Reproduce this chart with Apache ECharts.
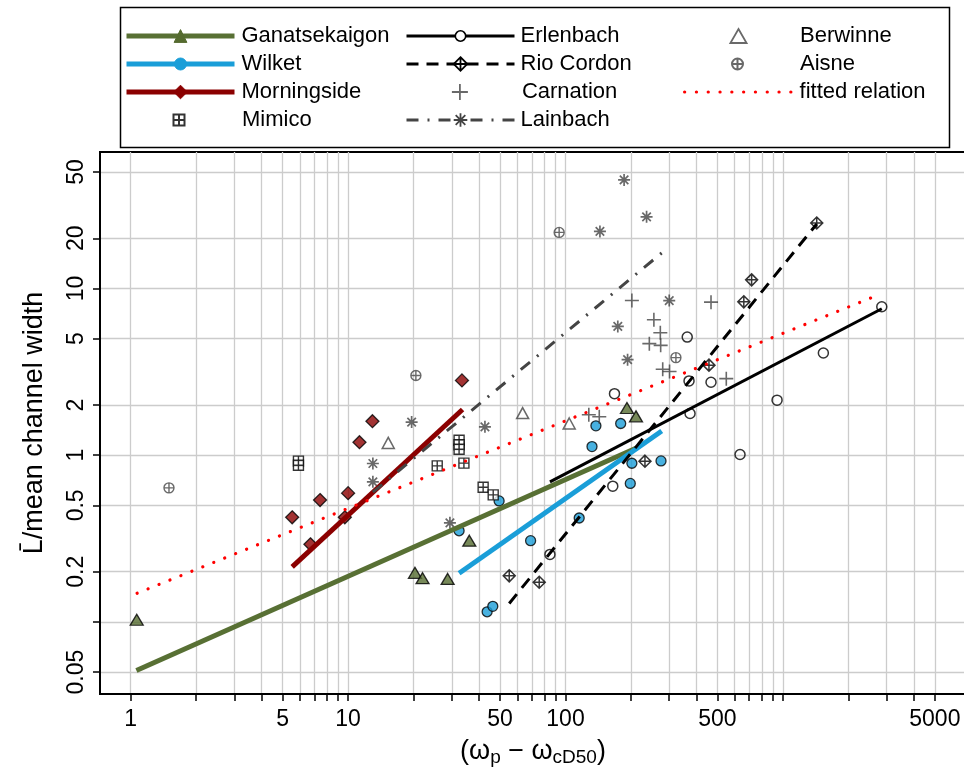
<!DOCTYPE html>
<html>
<head>
<meta charset="utf-8">
<script src="https://cdn.jsdelivr.net/npm/echarts@6/dist/echarts.min.js"></script>
<style>
  html, body { margin: 0; padding: 0; background: #fff; }
  #chart { width: 964px; height: 773px; }
</style>
</head>
<body>
<div id="chart"></div>
<script>
// tick + label values (raw, not log)
const xTicks = [1, 2, 3, 4, 5, 6, 7, 8, 9, 10, 20, 30, 40, 50, 60, 70, 80, 90,
  100, 200, 300, 400, 500, 600, 700, 800, 900, 1000, 2000, 3000, 4000, 5000];
const xLabels = [1, 5, 10, 50, 100, 500, 5000];
const yTicks = [0.05, 0.1, 0.2, 0.5, 1, 2, 5, 10, 20, 50];
const yLabels = [0.05, 0.2, 0.5, 1, 2, 5, 10, 20, 50];

// points: [x, y]
const ganatsekaigonPts = [[1.066, 0.103], [20.3, 0.197], [22.0, 0.183], [28.7, 0.181], [36.1, 0.307], [191.7, 1.92], [211, 1.71]];
const ganatsekaigonFit = [[1.062, 0.0511], [212, 1.106]];
const wilketPts = [[43.6, 0.115], [46.3, 0.124], [32.4, 0.352], [49.5, 0.532], [69.1, 0.307], [115.6, 0.42],
  [132.4, 1.127], [138, 1.5], [179.4, 1.55], [202, 0.895], [198.6, 0.677], [275, 0.924]];
const wilketFit = [[32.4, 0.196], [277, 1.398]];
const morningsidePts = [[5.53, 0.424], [6.71, 0.292], [7.43, 0.538], [10.0, 0.592], [9.66, 0.424], [11.28, 1.197], [12.94, 1.6], [33.4, 2.81]];
const morningsideFit = [[5.53, 0.214], [33.6, 1.88]];
const mimicoPts = [[5.91, 0.921], [5.91, 0.871], [32.4, 1.23], [32.4, 1.155], [32.4, 1.086], [25.7, 0.863], [34.1, 0.896], [41.8, 0.643], [46.5, 0.578]];
const erlenbachPts = [[84.8, 0.254], [165, 0.652], [168, 2.34], [363, 5.11], [370, 2.79], [374, 1.78], [467, 2.74],
  [635, 1.01], [940, 2.14], [1535, 4.1], [2850, 7.77]];
const erlenbachFit = [[84.8, 0.692], [2850, 7.56]];
const rioCordonPts = [[55.1, 0.189], [75.7, 0.173], [232, 0.921], [457, 3.47], [661, 8.32], [718, 11.27], [1431, 24.7]];
const rioCordonFit = [[55.1, 0.129], [1431, 24.4]];
const carnationPts = [[202, 8.47], [467, 8.28], [255, 6.5], [273, 5.43], [243, 4.67], [274, 4.56], [280, 3.28], [301, 3.18],
  [549, 2.88], [128, 1.75], [143, 1.7]];
const lainbachPts = [[186, 44.8], [236, 26.9], [144, 22.0], [300, 8.47], [174, 5.92], [193, 3.74], [42.6, 1.48],
  [19.6, 1.58], [13.0, 0.892], [13.0, 0.692], [29.4, 0.393]];
const lainbachFit = [[13.0, 0.6], [278, 16.4]];
const berwinnePts = [[15.3, 1.185], [63.5, 1.79], [104, 1.55]];
const aisnePts = [[1.5, 0.637], [20.5, 3.01], [93.5, 21.7], [322, 3.85]];
const fittedRelation = [[1.07, 0.1485], [2778, 9.2]];

// axis extents in log10 units
const X_MIN = -0.1412, X_MAX = 3.8422;
const Y_MIN = -1.4325, Y_MAX = 1.8189;

const FONT = '"Liberation Sans", Arial, sans-serif';
const GRAY = '#444444';
const OLIVE = '#587034';
const BLUE = '#1a9ed8';
const DARKRED = '#8b0000';

// R-like plotting symbols
const symTriangle = 'path://M5,0L10,8.66L0,8.66Z';
const symSquarePlus = 'path://M0,0L10,0L10,10L0,10Z M5,0L5,10 M0,5L10,5';
const symCirclePlus = 'path://M0,5A5,5,0,1,1,10,5A5,5,0,1,1,0,5Z M5,0L5,10 M0,5L10,5';
const symDiamondPlus = 'path://M5,0L10,5L5,10L0,5Z M5,0L5,10 M0,5L10,5';
const symPlus = 'path://M5,0L5,10 M0,5L10,5';
const symAsterisk = 'path://M5,0L5,10 M0,5L10,5 M1.46,1.46L8.54,8.54 M8.54,1.46L1.46,8.54';

function fmt(v) {
  return String(parseFloat(Math.pow(10, v).toPrecision(4)));
}

function fitLine(name, data, lineStyle, symbol, itemStyle, z) {
  return {
    name, type: 'line', data, xAxisIndex: 0, yAxisIndex: 0,
    showSymbol: false, symbol, silent: true, z: z || 3,
    lineStyle, itemStyle
  };
}

function points(name, data, symbol, symbolSize, itemStyle) {
  return {
    name, type: 'scatter', data, xAxisIndex: 0, yAxisIndex: 0,
    symbol, symbolSize, silent: true, z: 2, itemStyle
  };
}

const series = [
  fitLine('Ganatsekaigon', ganatsekaigonFit, { color: OLIVE, width: 5 }, 'triangle',
    { color: '#556b2f', borderColor: '#556b2f', borderWidth: 1 }),
  fitLine('Wilket', wilketFit, { color: BLUE, width: 5 }, 'circle',
    { color: BLUE, borderColor: BLUE, borderWidth: 1 }),
  fitLine('Morningside', morningsideFit, { color: DARKRED, width: 5 }, 'diamond',
    { color: DARKRED, borderColor: DARKRED, borderWidth: 1 }),
  fitLine('Erlenbach', erlenbachFit, { color: '#000', width: 3 }, 'circle',
    { color: '#fff', borderColor: '#000', borderWidth: 1.6 }),
  fitLine('Rio Cordon', rioCordonFit, { color: '#000', width: 3, type: [12, 8] }, symDiamondPlus,
    { color: '#fff', borderColor: '#000', borderWidth: 1.8 }),
  fitLine('Lainbach', lainbachFit, { color: GRAY, width: 3, type: [12, 9, 2, 9] }, symAsterisk,
    { color: 'transparent', borderColor: GRAY, borderWidth: 1.8 }),
  fitLine('fitted relation', fittedRelation, { color: '#ff0000', width: 3.2, type: [0.1, 11.7], cap: 'round' }, 'circle',
    { color: 'transparent', borderColor: 'transparent', borderWidth: 0 }, 4),

  points('Ganatsekaigon', ganatsekaigonPts, 'triangle', [13, 11], { color: '#556b2f', borderColor: '#000', borderWidth: 1.3 }),
  points('Wilket', wilketPts, 'circle', 10, { color: BLUE, borderColor: '#000', borderWidth: 1.3 }),
  points('Morningside', morningsidePts, 'diamond', 13, { color: DARKRED, borderColor: '#000', borderWidth: 1.3 }),
  points('Mimico', mimicoPts, symSquarePlus, 10, { color: '#fff', borderColor: '#000', borderWidth: 1.4 }),
  points('Erlenbach', erlenbachPts, 'circle', 10, { color: 'transparent', borderColor: '#000', borderWidth: 1.5 }),
  points('Rio Cordon', rioCordonPts, symDiamondPlus, 12, { color: 'transparent', borderColor: '#000', borderWidth: 1.5 }),
  points('Carnation', carnationPts, symPlus, 14, { color: 'transparent', borderColor: GRAY, borderWidth: 1.6 }),
  points('Lainbach', lainbachPts, symAsterisk, 12, { color: 'transparent', borderColor: GRAY, borderWidth: 1.7 }),
  points('Berwinne', berwinnePts, symTriangle, [12, 11], { color: 'transparent', borderColor: GRAY, borderWidth: 1.5 }),
  points('Aisne', aisnePts, symCirclePlus, 10, { color: 'transparent', borderColor: GRAY, borderWidth: 1.4 })
];

// one legend per entry so every row/icon can be placed like the original
const legendRows = [36, 64, 92, 120];
function legendEntry(name, colLeft, row, itemWidth, itemHeight, textPad, iconOnly, borderWidth) {
  // symbol-only icons are drawn itemHeight wide in the middle of itemWidth,
  // and the legend box starts at the drawn icon, so shift it back
  const left = iconOnly ? colLeft + (itemWidth - itemHeight) / 2 : colLeft;
  return {
    orient: 'vertical', padding: 0, left, top: legendRows[row] - 11,
    itemWidth, itemHeight, selectedMode: false, symbolKeepAspect: true,
    data: [name],
    textStyle: { fontSize: 22, color: '#000', fontFamily: FONT, padding: [0, 0, 0, textPad] },
    lineStyle: { width: 'inherit' },
    itemStyle: { borderWidth: borderWidth || 'inherit' }
  };
}

const legends = [
  legendEntry('Ganatsekaigon', 124, 0, 108, 16, 2),
  legendEntry('Wilket', 124, 1, 108, 15, 2),
  legendEntry('Morningside', 124, 2, 108, 17, 2),
  legendEntry('Mimico', 124, 3, 108, 11, 4, true, 2),
  legendEntry('Erlenbach', 405, 0, 108, 13, 1),
  legendEntry('Rio Cordon', 405, 1, 108, 17, 1),
  legendEntry('Carnation', 405, 2, 108, 16, 3, true, 1.8),
  legendEntry('Lainbach', 405, 3, 108, 17, 1),
  legendEntry('Berwinne', 683, 0, 107, 14, 3, true, 1.8),
  legendEntry('Aisne', 683, 1, 107, 11, 4, true, 2),
  legendEntry('fitted relation', 683, 2, 107, 14, 3)
];

const chart = echarts.init(document.getElementById('chart'));
chart.setOption({
  animation: false,
  backgroundColor: '#fff',
  textStyle: { fontFamily: FONT },
  grid: {
    left: 100, top: 152, right: -2, bottom: 79,
    show: true, borderColor: '#000', borderWidth: 2, backgroundColor: 'transparent',
    containLabel: false, outerBoundsMode: 'none'
  },
  legend: legends,
  graphic: [{
    type: 'rect', silent: true,
    shape: { x: 120.5, y: 7.5, width: 829, height: 140 },
    style: { fill: 'none', stroke: '#000', lineWidth: 1.5 }
  }],
  xAxis: [
    { type: 'log', logBase: 10, min: Math.pow(10, X_MIN), max: Math.pow(10, X_MAX), show: false },
    {
      type: 'value', min: X_MIN, max: X_MAX, position: 'bottom',
      axisLine: { show: true, onZero: false, lineStyle: { color: '#000', width: 2 } },
      axisTick: { show: true, customValues: xTicks.map(Math.log10), length: 7, lineStyle: { color: '#000', width: 1.5 } },
      axisLabel: { show: true, customValues: xLabels.map(Math.log10), formatter: fmt, fontSize: 23, color: '#000', fontFamily: FONT, margin: 14 },
      splitLine: { show: true, lineStyle: { color: '#cccccc', width: 1.3 } },
      name: '(ω{s|p} − ω{s|cD50})',
      nameLocation: 'middle', nameGap: 42,
      nameTextStyle: {
        fontSize: 27, color: '#000', fontFamily: FONT,
        rich: { s: { fontSize: 19, fontFamily: FONT, color: '#000', padding: [12, 0, 0, 0] } }
      }
    }
  ],
  yAxis: [
    { type: 'log', logBase: 10, min: Math.pow(10, Y_MIN), max: Math.pow(10, Y_MAX), show: false },
    {
      type: 'value', min: Y_MIN, max: Y_MAX, position: 'left',
      axisLine: { show: true, onZero: false, lineStyle: { color: '#000', width: 2 } },
      axisTick: { show: true, customValues: yTicks.map(Math.log10), length: 7, lineStyle: { color: '#000', width: 1.5 } },
      axisLabel: { show: true, customValues: yLabels.map(Math.log10), formatter: fmt, rotate: 90, fontSize: 23, color: '#000', fontFamily: FONT, margin: 12 },
      splitLine: { show: true, lineStyle: { color: '#cccccc', width: 1.3 } },
      name: 'L\u0304/mean channel width',
      nameLocation: 'middle', nameGap: 52,
      nameTextStyle: { fontSize: 27, color: '#000', fontFamily: FONT }
    }
  ],
  series
});
</script>
</body>
</html>
